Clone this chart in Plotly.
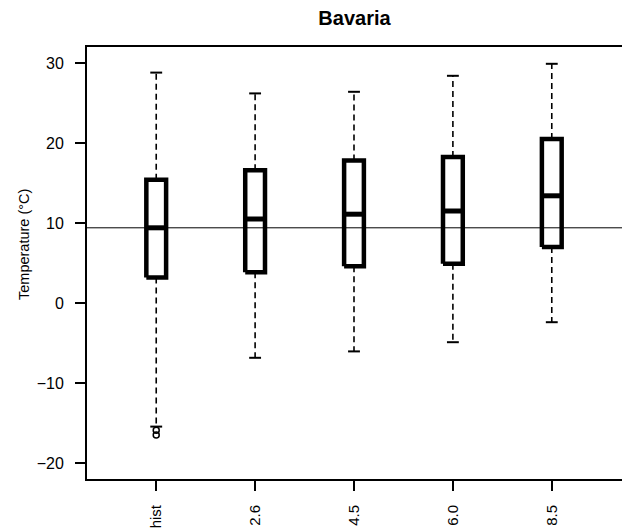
import plotly.graph_objects as go

categories = ["hist", "2.6", "4.5", "6.0", "8.5"]
lower_whisker = [-15.45, -6.85, -6.05, -4.9, -2.4]
q1 = [3.2, 3.85, 4.6, 4.9, 7.0]
median = [9.4, 10.5, 11.1, 11.5, 13.4]
q3 = [15.4, 16.6, 17.8, 18.25, 20.5]
upper_whisker = [28.8, 26.2, 26.4, 28.4, 29.9]
outlier_category = ["hist", "hist"]
outlier_value = [-15.9, -16.5]
y_ticks = [-20, -10, 0, 10, 20, 30]

BOX_HALF = 0.1
CAP_HALF = 0.06
FONT = "Liberation Sans, Arial, sans-serif"

fig = go.Figure()
pos = {c: i + 1 for i, c in enumerate(categories)}

for i, c in enumerate(categories):
    x0 = pos[c]
    fig.add_trace(go.Scatter(x=[x0, x0, None, x0, x0],
                             y=[q3[i], upper_whisker[i], None, q1[i], lower_whisker[i]],
                             mode="lines", line=dict(color="black", width=1.6, dash="6px,4px"),
                             showlegend=False, hoverinfo="skip"))
    fig.add_trace(go.Scatter(x=[x0 - CAP_HALF, x0 + CAP_HALF, None, x0 - CAP_HALF, x0 + CAP_HALF],
                             y=[upper_whisker[i], upper_whisker[i], None, lower_whisker[i], lower_whisker[i]],
                             mode="lines", line=dict(color="black", width=2),
                             showlegend=False, hoverinfo="skip"))
    fig.add_trace(go.Scatter(x=[x0 - BOX_HALF, x0 + BOX_HALF, x0 + BOX_HALF, x0 - BOX_HALF, x0 - BOX_HALF],
                             y=[q1[i], q1[i], q3[i], q3[i], q1[i]],
                             mode="lines", line=dict(color="black", width=4.5),
                             showlegend=False, hoverinfo="skip"))
    fig.add_trace(go.Scatter(x=[x0 - BOX_HALF, x0 + BOX_HALF], y=[median[i], median[i]],
                             mode="lines", line=dict(color="black", width=5),
                             showlegend=False, hoverinfo="skip"))

fig.add_trace(go.Scatter(x=[pos[c] for c in outlier_category], y=outlier_value, mode="markers",
                         marker=dict(symbol="circle-open", size=6, color="black", line=dict(width=1.5)),
                         showlegend=False, hoverinfo="skip"))

fig.add_hline(y=median[0], line=dict(color="black", width=1))

W, H = 622, 531
fig.update_layout(
    width=W, height=H,
    margin=dict(l=87, r=0, t=47, b=52, autoexpand=False),
    paper_bgcolor="white", plot_bgcolor="white",
    font=dict(family=FONT, color="black", size=15),
    title=dict(text="<b>Bavaria</b>", x=0.5, xref="paper", xanchor="center",
               y=1 - 18 / H, yanchor="middle",
               font=dict(size=20, family=FONT, color="black")),
    showlegend=False,
    hovermode=False,
)
fig.update_xaxes(range=[0.3, 0.3 + 5.4 * 535 / 534], tickmode="array",
                 tickvals=[pos[c] for c in categories],
                 ticktext=categories, tickangle=-90, ticks="outside", ticklen=10, tickwidth=1.5,
                 tickcolor="black", showline=True, linecolor="black", linewidth=2, mirror=True,
                 showgrid=False, zeroline=False, ticklabelstandoff=8,
                 tickfont=dict(size=15, color="black"), automargin=False)
fig.update_yaxes(range=[-22, 32], tickmode="array", tickvals=y_ticks, ticks="outside",
                 ticklen=10, tickwidth=1.5, tickcolor="black", showline=True, linecolor="black",
                 linewidth=2, mirror=False, showgrid=False, zeroline=False, ticklabelstandoff=8,
                 tickfont=dict(size=16, color="black"), automargin=False)
fig.add_annotation(text="Temperature (°C)", textangle=-90, xref="paper", yref="paper",
                   x=-(87 - 24) / 535, y=(479 - 245) / 432, xanchor="center", yanchor="middle",
                   showarrow=False, font=dict(size=14.5, family=FONT, color="black"))

fig.write_html(
    "out.html",
    config={"displayModeBar": False},
    post_script="document.body.style.margin='0';document.body.style.overflow='hidden';",
)
